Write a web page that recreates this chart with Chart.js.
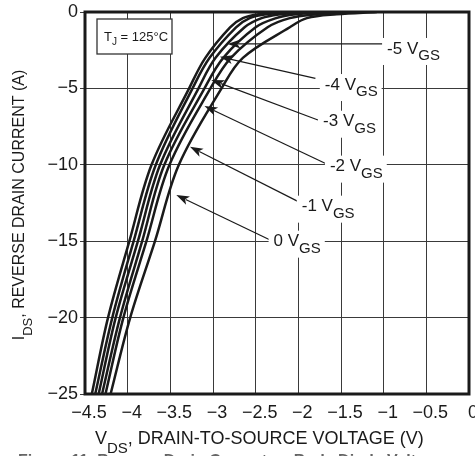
<!DOCTYPE html>
<html>
<head>
<meta charset="utf-8">
<script src="https://cdn.jsdelivr.net/npm/chart.js@4"></script>
<style>
  html, body { margin: 0; padding: 0; background: #fff; }
  #wrap { width: 475px; height: 456px; }
</style>
</head>
<body>
<div id="wrap"><canvas id="diodeChart" width="475" height="456"></canvas></div>
<script>
// reverse drain current levels (A), shared by every curve
const currentLevels = [0, -0.15, -0.4, -1, -3, -5, -10, -15, -20, -25];

// drain-to-source voltage (V) at each current level, one array per V_GS
const vds_m5 = [-2.2, -2.47, -2.65, -2.80, -3.09, -3.28, -3.72, -3.98, -4.23, -4.42];
const vds_m4 = [-2.1, -2.38, -2.57, -2.73, -3.04, -3.24, -3.67, -3.93, -4.18, -4.38];
const vds_m3 = [-1.9, -2.21, -2.43, -2.63, -2.97, -3.17, -3.62, -3.88, -4.14, -4.34];
const vds_m2 = [-1.7, -2.03, -2.26, -2.50, -2.88, -3.10, -3.57, -3.83, -4.09, -4.30];
const vds_m1 = [-1.4, -1.79, -2.10, -2.36, -2.79, -3.03, -3.51, -3.78, -4.05, -4.26];
const vds_0  = [-1.08, -1.55, -1.90, -2.10, -2.65, -2.90, -3.40, -3.68, -3.97, -4.20];

const gateLabels = ['-5', '-4', '-3', '-2', '-1', '0'];
const seriesVds = [vds_m5, vds_m4, vds_m3, vds_m2, vds_m1, vds_0];

const xTicks = [-4.5, -4, -3.5, -3, -2.5, -2, -1.5, -1, -0.5, 0];
const yTicks = [0, -5, -10, -15, -20, -25];

// callouts: arrow tip, arrow tail and label anchor, in data units
const callouts = [
  { text: '-5', tip: [-2.83, -2.09], tail: [-0.95, -2.09], at: [-0.96, -2.42] },
  { text: '-4', tip: [-2.92, -2.93], tail: [-1.80, -4.34], at: [-1.69, -4.78] },
  { text: '-3', tip: [-3.02, -4.45], tail: [-1.77, -7.07], at: [-1.71, -7.18] },
  { text: '-2', tip: [-3.10, -6.15], tail: [-1.65, -10.0], at: [-1.63, -10.12] },
  { text: '-1', tip: [-3.27, -8.82], tail: [-2.00, -12.41], at: [-1.96, -12.74] },
  { text: '0',  tip: [-3.43, -11.98], tail: [-2.33, -14.92], at: [-2.29, -15.03] }
];

const FONT = '"Liberation Sans", Arial, Helvetica, sans-serif';
const INK = '#1a1a1a';

function minus(v) {
  if (v === 0) return '0';
  return (v < 0 ? '\u2212' : '') + Math.abs(v);
}

// draws main text followed by a lowered subscript, then optional trailing text
function subText(ctx, x, y, main, sub, rest, size, subSize, drop) {
  ctx.font = size + 'px ' + FONT;
  ctx.fillText(main, x, y);
  let w = ctx.measureText(main).width;
  ctx.font = subSize + 'px ' + FONT;
  ctx.fillText(sub, x + w, y + drop);
  w += ctx.measureText(sub).width;
  if (rest) {
    ctx.font = size + 'px ' + FONT;
    ctx.fillText(rest, x + w, y);
    w += ctx.measureText(rest).width;
  }
  return w;
}

function arrow(ctx, x1, y1, x2, y2) {
  // line from tail (x1,y1) to tip (x2,y2), filled head at the tip
  const a = Math.atan2(y2 - y1, x2 - x1);
  const len = 13, half = 4.5;
  ctx.beginPath();
  ctx.moveTo(x1, y1);
  ctx.lineTo(x2 - Math.cos(a) * len * 0.8, y2 - Math.sin(a) * len * 0.8);
  ctx.stroke();
  ctx.beginPath();
  ctx.moveTo(x2, y2);
  ctx.lineTo(x2 - Math.cos(a) * len + Math.sin(a) * half, y2 - Math.sin(a) * len - Math.cos(a) * half);
  ctx.lineTo(x2 - Math.cos(a) * len * 0.75, y2 - Math.sin(a) * len * 0.75);
  ctx.lineTo(x2 - Math.cos(a) * len - Math.sin(a) * half, y2 - Math.sin(a) * len + Math.cos(a) * half);
  ctx.closePath();
  ctx.fill();
}

const decorations = {
  id: 'decorations',
  afterDatasetsDraw(chart) {
    const { ctx, chartArea: a, scales: { x, y } } = chart;
    ctx.save();
    ctx.fillStyle = INK;
    ctx.strokeStyle = INK;

    // callout arrows
    ctx.lineWidth = 1.2;
    callouts.forEach(c => {
      arrow(ctx, x.getPixelForValue(c.tail[0]), y.getPixelForValue(c.tail[1]),
        x.getPixelForValue(c.tip[0]), y.getPixelForValue(c.tip[1]));
    });

    // callout labels on white boxes
    ctx.textBaseline = 'middle';
    ctx.textAlign = 'left';
    callouts.forEach(c => {
      const lx = x.getPixelForValue(c.at[0]);
      const ly = y.getPixelForValue(c.at[1]);
      ctx.font = '17px ' + FONT;
      const w1 = ctx.measureText(c.text + ' V').width;
      ctx.font = '15px ' + FONT;
      const w2 = ctx.measureText('GS').width;
      ctx.fillStyle = '#fff';
      ctx.fillRect(lx - 5, ly - 11, w1 + w2 + 9, 27);
      ctx.fillStyle = INK;
      subText(ctx, lx, ly, c.text + ' V', 'GS', '', 17, 15, 7);
    });

    // junction temperature box
    ctx.fillStyle = '#fff';
    ctx.fillRect(97, 19, 75, 35);
    ctx.lineWidth = 1.3;
    ctx.strokeStyle = '#333';
    ctx.strokeRect(97, 19, 75, 35);
    ctx.fillStyle = INK;
    ctx.textBaseline = 'alphabetic';
    subText(ctx, 104, 41, 'T', 'J', ' = 125\u00B0C', 13, 10, 4);

    // heavy frame round the plot
    ctx.lineWidth = 3;
    ctx.strokeStyle = INK;
    ctx.strokeRect(a.left, a.top, a.right - a.left, a.bottom - a.top);

    // x axis title
    ctx.textBaseline = 'alphabetic';
    subText(ctx, 95, 444, 'V', 'DS', ', DRAIN-TO-SOURCE VOLTAGE (V)', 18, 15, 9);

    // y axis title, rotated
    ctx.save();
    ctx.translate(24, (a.top + a.bottom) / 2 + 2);
    ctx.rotate(-Math.PI / 2);
    ctx.font = '16px ' + FONT;
    let tw = ctx.measureText('I, REVERSE DRAIN CURRENT (A)').width;
    ctx.font = '13px ' + FONT;
    tw += ctx.measureText('DS').width;
    subText(ctx, -tw / 2, 0, 'I', 'DS', ', REVERSE DRAIN CURRENT (A)', 16, 13, 8);
    ctx.restore();

    // figure caption, cut off by the bottom edge
    ctx.fillStyle = '#666';
    ctx.font = 'bold 16px ' + FONT;
    ctx.textBaseline = 'top';
    ctx.fillText('Figure 11. Reverse Drain Current vs Body Diode Voltage', 18, 454);
    ctx.restore();
  }
};

const datasets = seriesVds.map((vds, i) => ({
  label: gateLabels[i] + ' VGS',
  data: vds.map((v, k) => ({ x: v, y: currentLevels[k] })),
  borderColor: INK,
  borderWidth: 2.5,
  pointRadius: 0,
  fill: false,
  tension: 0.35
}));

new Chart(document.getElementById('diodeChart'), {
  type: 'line',
  data: { datasets },
  options: {
    responsive: false,
    animation: false,
    layout: { padding: { top: 12, right: 6, left: 0, bottom: 0 } },
    plugins: { legend: { display: false }, tooltip: { enabled: false } },
    scales: {
      x: {
        type: 'linear',
        min: -4.5,
        max: 0,
        afterBuildTicks: s => { s.ticks = xTicks.map(v => ({ value: v })); },
        afterFit: s => { s.height = 62; s.paddingLeft = 0; s.paddingRight = 0; },
        grid: { color: '#3a3a3a', lineWidth: 1, drawTicks: false },
        border: { display: false },
        ticks: {
          callback: v => minus(v),
          color: INK,
          font: { family: FONT, size: 18 },
          padding: 8,
          labelOffset: 4,
          maxRotation: 0,
          autoSkip: false
        }
      },
      y: {
        min: -25,
        max: 0,
        afterBuildTicks: s => { s.ticks = yTicks.map(v => ({ value: v })); },
        afterFit: s => { s.width = 85; s.paddingTop = 0; s.paddingBottom = 0; },
        grid: { color: '#3a3a3a', lineWidth: 1, tickLength: 5 },
        border: { display: false },
        ticks: {
          callback: v => minus(v),
          color: INK,
          font: { family: FONT, size: 18 },
          padding: 2,
          autoSkip: false
        }
      }
    }
  },
  plugins: [decorations]
});
</script>
</body>
</html>
